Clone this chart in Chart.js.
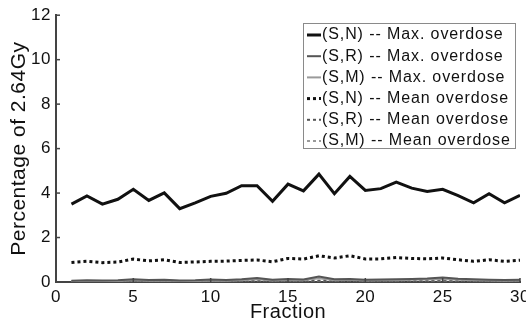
<!DOCTYPE html>
<html>
<head>
<meta charset="utf-8">
<script src="https://cdn.jsdelivr.net/npm/chart.js@4.4.1/dist/chart.umd.min.js"></script>
<style>
  html, body { margin: 0; padding: 0; background: #fff; }
  #wrap { width: 526px; height: 327px; }
</style>
</head>
<body>
<div id="wrap"><canvas id="myChart" width="526" height="327"></canvas></div>
<script>
// fractions 1..30
const fractions = [1,2,3,4,5,6,7,8,9,10,11,12,13,14,15,16,17,18,19,20,21,22,23,24,25,26,27,28,29,30];

// percentage of 2.64Gy
const snMax = [3.5,3.87,3.5,3.72,4.17,3.67,4.01,3.3,3.56,3.85,3.99,4.33,4.33,3.63,4.4,4.1,4.85,3.97,4.75,4.12,4.2,4.49,4.22,4.07,4.17,3.88,3.56,3.97,3.56,3.9];
const srMax = [0.06,0.08,0.07,0.08,0.12,0.09,0.1,0.07,0.08,0.11,0.09,0.12,0.18,0.1,0.13,0.11,0.25,0.12,0.14,0.1,0.11,0.12,0.14,0.16,0.2,0.15,0.12,0.1,0.09,0.1];
const smMax = [0.04,0.05,0.05,0.05,0.08,0.06,0.07,0.05,0.05,0.07,0.06,0.08,0.12,0.07,0.09,0.08,0.17,0.08,0.1,0.07,0.08,0.08,0.1,0.11,0.14,0.1,0.08,0.07,0.06,0.07];
const snMean = [0.88,0.93,0.87,0.9,1.03,0.95,1.0,0.88,0.9,0.93,0.94,0.97,0.99,0.91,1.06,1.03,1.18,1.08,1.18,1.04,1.04,1.1,1.06,1.04,1.08,1.0,0.93,1.0,0.93,0.98];
const srMean = [0.03,0.03,0.03,0.03,0.04,0.03,0.04,0.03,0.03,0.04,0.03,0.04,0.05,0.03,0.04,0.04,0.06,0.04,0.05,0.04,0.04,0.04,0.05,0.05,0.06,0.05,0.04,0.04,0.03,0.04];
const smMean = [0.02,0.02,0.02,0.02,0.03,0.02,0.03,0.02,0.02,0.03,0.02,0.03,0.03,0.02,0.03,0.03,0.04,0.03,0.03,0.03,0.03,0.03,0.03,0.03,0.04,0.03,0.03,0.03,0.02,0.03];

const seriesLabels = [
  '(S,N) -- Max. overdose',
  '(S,R) -- Max. overdose',
  '(S,M) -- Max. overdose',
  '(S,N) -- Mean overdose',
  '(S,R) -- Mean overdose',
  '(S,M) -- Mean overdose'
];
const yTicks = [0,2,4,6,8,10,12];
const xTicks = [0,5,10,15,20,25,30];

const FONT = 'Liberation Sans, Arial, Helvetica, sans-serif';

function pts(arr){
  return fractions.map((f,i) => ({x: f, y: arr[i]}));
}

function ds(label, arr, color, width, dash){
  return {
    label: label,
    data: pts(arr),
    borderColor: color,
    backgroundColor: color,
    borderWidth: width,
    borderDash: dash,
    borderCapStyle: 'butt',
    pointRadius: 0,
    tension: 0,
    fill: false
  };
}

// wider tracking like the original figure text
const spacing = {
  id: 'spacing',
  beforeDraw(chart){ chart.ctx.letterSpacing = '0.5px'; }
};

// boxed legend in the top right + inward tick marks
const boxLegend = {
  id: 'boxLegend',
  afterDraw(chart){
    const ctx = chart.ctx;
    const xs = chart.scales.x, ys = chart.scales.y;
    ctx.save();
    // inward ticks
    ctx.strokeStyle = '#444';
    ctx.lineWidth = 1.5;
    yTicks.forEach(v => {
      const y = ys.getPixelForValue(v);
      ctx.beginPath(); ctx.moveTo(xs.left, y); ctx.lineTo(xs.left + 4, y); ctx.stroke();
    });
    xTicks.forEach(v => {
      const x = xs.getPixelForValue(v);
      ctx.beginPath(); ctx.moveTo(x, ys.bottom); ctx.lineTo(x, ys.bottom - 4); ctx.stroke();
    });

    // legend box
    const bx = 303, by = 23, bw = 212, bh = 125;
    ctx.fillStyle = '#fff';
    ctx.fillRect(bx, by, bw, bh);
    ctx.strokeStyle = '#8a8a8a';
    ctx.lineWidth = 1;
    ctx.strokeRect(bx + 0.5, by + 0.5, bw, bh);
    ctx.font = '16px ' + FONT;
    ctx.letterSpacing = '0.9px';
    ctx.textBaseline = 'middle';
    chart.data.datasets.forEach((d, i) => {
      const y = by + 12 + i * 21.2;
      ctx.strokeStyle = d.borderColor;
      ctx.lineWidth = d.borderWidth;
      ctx.setLineDash(d.borderDash || []);
      ctx.beginPath(); ctx.moveTo(bx + 4, y); ctx.lineTo(bx + 18, y); ctx.stroke();
      ctx.setLineDash([]);
      ctx.fillStyle = '#111';
      ctx.fillText(d.label, bx + 19, y);
    });
    ctx.restore();
  }
};

const ctx = document.getElementById('myChart').getContext('2d');
const myChart = new Chart(ctx, {
  type: 'line',
  data: {
    datasets: [
      ds(seriesLabels[0], snMax, '#111', 3, []),
      ds(seriesLabels[1], srMax, '#555', 2, []),
      ds(seriesLabels[2], smMax, '#9a9a9a', 2, []),
      ds(seriesLabels[3], snMean, '#111', 3, [3,3]),
      ds(seriesLabels[4], srMean, '#555', 2, [3,3]),
      ds(seriesLabels[5], smMean, '#9a9a9a', 2, [3,3])
    ]
  },
  options: {
    responsive: false,
    animation: false,
    layout: { padding: { top: 15, right: 6, left: 0, bottom: 0 } },
    plugins: {
      legend: { display: false },
      tooltip: { enabled: false }
    },
    scales: {
      x: {
        type: 'linear',
        min: 0, max: 30,
        grid: { display: false, drawTicks: false },
        border: { display: true, color: '#444', width: 2 },
        ticks: {
          stepSize: 5,
          padding: 5,
          color: '#111',
          font: { family: FONT, size: 17 }
        },
        title: {
          display: true,
          text: 'Fraction',
          color: '#111',
          font: { family: FONT, size: 20 },
          padding: { top: 0, bottom: 3 }
        },
        afterFit: s => { s.height = 45; s.paddingLeft = 0; s.paddingRight = 0; }
      },
      y: {
        min: 0, max: 12,
        grid: { display: false, drawTicks: false },
        border: { display: true, color: '#444', width: 2 },
        ticks: {
          stepSize: 2,
          padding: 5,
          color: '#111',
          font: { family: FONT, size: 17 }
        },
        title: {
          display: true,
          text: 'Percentage of 2.64Gy',
          color: '#111',
          font: { family: FONT, size: 21 },
          padding: { top: 7, bottom: 0 }
        },
        afterFit: s => { s.width = 56; }
      }
    }
  },
  plugins: [spacing, boxLegend]
});
</script>
</body>
</html>
